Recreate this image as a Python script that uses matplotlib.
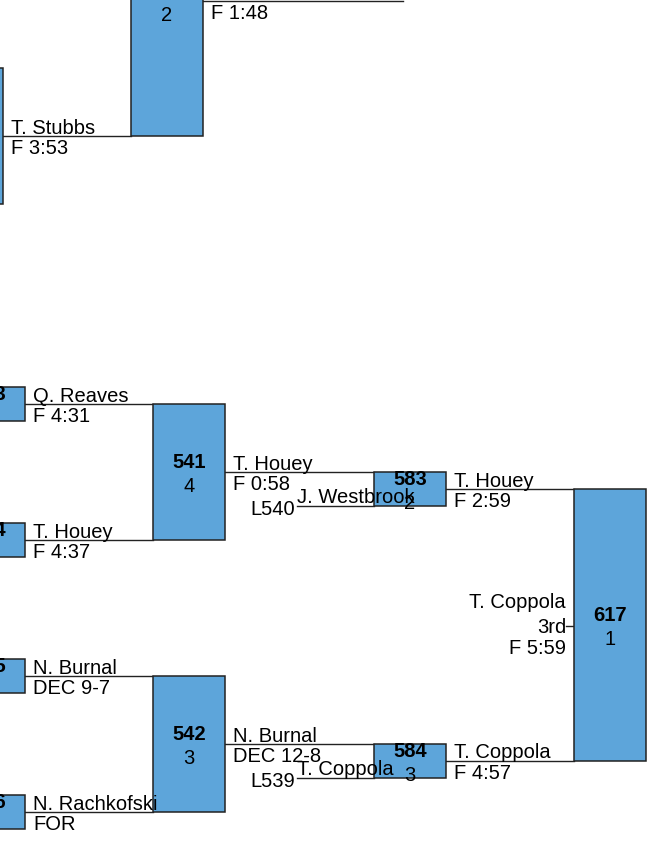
import matplotlib.pyplot as plt
from matplotlib.patches import Rectangle

plt.rcParams['font.family'] = ['Liberation Sans', 'DejaVu Sans']

# match data (bout number in bold, mat number below it)
bouts = ['', '', '533', '534', '535', '536', '541', '542', '583', '584', '617']
mats = ['', '2', '', '', '', '', '4', '3', '2', '3', '1']
winners = ['T. Stubbs', '', 'Q. Reaves', 'T. Houey', 'N. Burnal', 'N. Rachkofski',
           'T. Houey', 'N. Burnal', 'T. Houey', 'T. Coppola', 'T. Coppola']
results = ['F 3:53', 'F 1:48', 'F 4:31', 'F 4:37', 'DEC 9-7', 'FOR',
           'F 0:58', 'DEC 12-8', 'F 2:59', 'F 4:57', 'F 5:59']
place_label = '3rd'

# losers dropping in from the other side
drop_into = [8, 9]
drop_names = ['J. Westbrook', 'T. Coppola']
drop_from = ['L540', 'L539']

# --- layout (pixels) ---
W = 72
SLOT = 34
box_left = [-69, 131, -47, -47, -47, -47, 153, 153, 374, 374, 574]
# feeders: index of a feeding match, or None for a leaf
feeders = [None, None, None, None, None, None, (2, 3), (4, 5), (6, 'drop'), (7, 'drop'), (8, 9)]
leaf_span = {0: (68, 204), 1: (-134, 136),
             2: (387, 421), 3: (523, 557), 4: (659, 693), 5: (795, 829)}
line_end = [131, 403, 153, 153, 153, 153, 374, 374, 574, 574, None]

span = {}
for i, f in enumerate(feeders):
    if f is None:
        span[i] = leaf_span[i]
    else:
        a = sum(span[f[0]]) / 2
        b = a + SLOT if f[1] == 'drop' else sum(span[f[1]]) / 2
        span[i] = (a, b)

fig = plt.figure(figsize=(6.47, 8.57), dpi=100)
ax = fig.add_axes([0, 0, 1, 1])
ax.set_xlim(0, 647)
ax.set_ylim(857, 0)
ax.axis('off')

FS = 14.5
BLUE = '#5DA5DA'

for i in range(len(bouts)):
    y0, y1 = span[i]
    x = box_left[i]
    cy = (y0 + y1) / 2
    ax.add_patch(Rectangle((x, y0), W, y1 - y0, facecolor=BLUE,
                           edgecolor='#222222', lw=1.1, zorder=2))
    ax.text(x + W / 2, cy - 4, bouts[i], ha='center', va='baseline',
            fontsize=FS, fontweight='bold', zorder=4)
    ax.text(x + W / 2, cy + 20, mats[i], ha='center', va='baseline',
            fontsize=FS, zorder=4)
    if line_end[i] is not None:
        ax.plot([x + W, line_end[i]], [cy, cy], color='#222222', lw=1.0, zorder=1)
        ax.text(x + W + 8, cy - 2.5, winners[i], ha='left', va='baseline', fontsize=FS, zorder=4)
        ax.text(x + W + 8, cy + 18, results[i], ha='left', va='baseline', fontsize=FS, zorder=4)
    else:
        # final placement marker on the left side of the box
        ax.plot([x - 8, x], [cy + 1, cy + 1], color='#222222', lw=1.0, zorder=1)
        ax.text(x - 8, cy - 17, winners[i], ha='right', va='baseline', fontsize=FS, zorder=4)
        ax.text(x - 8, cy + 8, place_label, ha='right', va='baseline', fontsize=FS, zorder=4)
        ax.text(x - 8, cy + 29, results[i], ha='right', va='baseline', fontsize=FS, zorder=4)

for k, m in enumerate(drop_into):
    y = span[m][1]
    x1 = box_left[m]
    x0 = x1 - 77
    ax.plot([x0, x1], [y, y], color='#222222', lw=1.0, zorder=1)
    ax.text(x0 - 2, y + 9, drop_from[k], ha='right', va='baseline', fontsize=FS, zorder=4)
    ax.text(x0, y - 3, drop_names[k], ha='left', va='baseline', fontsize=FS, zorder=4)

fig.savefig('out.png', dpi=100)
